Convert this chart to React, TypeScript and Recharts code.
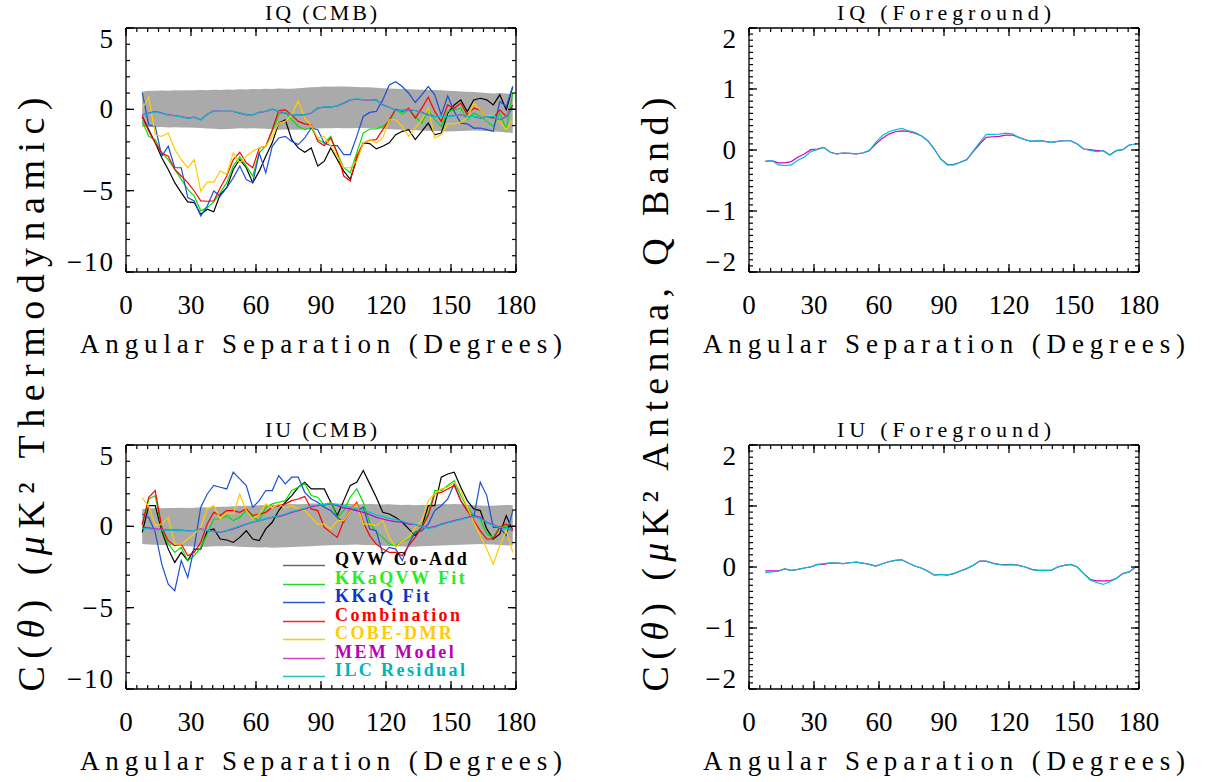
import React from 'react';
import { ComposedChart, Line, Area, XAxis, YAxis, Legend } from 'recharts';

// angular bins (degrees)
const angles = [7.5, 10.5, 13.5, 16.5, 19.5, 22.5, 25.5, 28.5, 31.5, 34.5, 37.5, 40.5, 43.5, 46.5, 49.5, 52.5, 55.5, 58.5, 61.5, 64.5, 67.5, 70.5, 73.5, 76.5, 79.5, 82.5, 85.5, 88.5, 91.5, 94.5, 97.5, 100.5, 103.5, 106.5, 109.5, 112.5, 115.5, 118.5, 121.5, 124.5, 127.5, 130.5, 133.5, 136.5, 139.5, 142.5, 145.5, 148.5, 151.5, 154.5, 157.5, 160.5, 163.5, 166.5, 169.5, 172.5, 175.5, 178.5];

// IQ (CMB)
const iqQvw = [-0.44, -1.25, -2.06, -2.98, -3.70, -4.51, -5.12, -5.69, -5.73, -6.45, -6.14, -6.30, -5.22, -4.82, -3.70, -3.08, -3.59, -4.51, -3.80, -2.88, -2.06, -0.85, -0.64, -1.86, -2.37, -2.64, -2.37, -3.49, -3.19, -2.37, -3.08, -3.80, -4.30, -3.08, -2.06, -2.11, -2.43, -2.27, -2.06, -1.56, -1.35, -1.25, -1.86, -1.35, -0.85, -1.56, -1.46, -0.23, 0.27, 0.58, -0.13, 0.58, 0.68, 0.58, 0.27, 0.89, -0.03, 1.40];
const iqKkaqvw = [-0.74, -1.66, -1.86, -2.68, -3.09, -3.70, -4.31, -4.92, -5.33, -6.24, -6.04, -5.69, -5.12, -4.51, -3.49, -2.92, -3.49, -4.10, -2.68, -2.27, -1.35, -0.27, -0.19, -0.64, -1.05, -1.25, -1.15, -1.86, -2.07, -1.66, -2.68, -3.59, -3.90, -2.68, -1.46, -1.21, -1.21, -1.05, -0.74, -0.03, -0.27, -0.03, -0.44, -0.85, -0.03, -0.64, -1.05, -0.13, -0.03, 0.07, -0.64, -0.23, -0.44, -0.74, -1.05, -0.23, -1.25, 0.99];
const iqKkaq = [1.03, -0.95, -1.05, -2.88, -2.27, -3.59, -3.59, -5.43, -5.63, -6.55, -5.94, -5.02, -5.33, -4.82, -4.21, -3.49, -4.31, -4.51, -2.68, -3.90, -2.27, -1.76, -1.66, -1.97, -2.17, -1.76, -1.15, -1.25, -2.07, -2.23, -2.23, -2.78, -2.78, -1.66, -0.44, -0.19, -0.13, 0.58, 1.50, 1.70, 1.40, 0.99, 0.42, 0.89, 1.40, 0.89, -0.34, 0.82, -0.13, -0.85, -0.89, -1.15, -1.15, -1.25, -1.35, 0.48, 0.17, 1.40];
const iqComb = [-0.44, -1.35, -2.07, -2.68, -2.88, -3.70, -4.10, -4.51, -5.02, -5.63, -5.65, -5.63, -4.82, -4.10, -3.09, -2.64, -3.29, -3.59, -2.37, -2.27, -1.25, -0.07, -0.03, -0.34, -0.74, -0.89, -0.95, -1.97, -2.23, -1.76, -2.68, -4.10, -4.41, -2.88, -2.07, -1.90, -1.86, -1.25, -0.64, 0.01, -0.13, 0.07, -0.54, 0.07, 0.74, -0.13, -0.74, 0.27, 0.07, 0.38, -0.34, 0.07, -0.03, -0.44, -0.54, -0.03, -0.44, 0.27];
const iqDmr = [0.07, 0.74, -1.56, -1.66, -1.46, -2.47, -3.09, -3.59, -3.09, -5.02, -4.47, -4.47, -3.80, -4.00, -2.68, -3.29, -2.88, -2.58, -2.37, -2.27, -1.66, -0.85, -0.74, -0.34, 0.52, -0.54, -1.01, -1.76, -1.66, -2.27, -2.88, -3.59, -3.59, -3.19, -2.07, -1.86, -2.07, -1.76, -0.64, -0.64, -1.05, -1.66, -1.15, -0.64, 0.07, -1.76, -1.56, -0.89, -0.89, -0.80, -0.54, 0.38, -0.03, -0.44, -0.34, -0.74, -1.25, -0.64];
const iqMem = [-0.34, -0.23, -0.13, -0.23, -0.34, -0.38, -0.44, -0.54, -0.48, -0.64, -0.30, -0.09, -0.13, -0.13, -0.13, -0.23, -0.34, -0.34, -0.19, -0.13, 0.01, -0.13, -0.23, -0.34, -0.34, -0.34, -0.23, 0.07, 0.13, 0.13, 0.21, 0.38, 0.58, 0.62, 0.58, 0.58, 0.58, 0.27, 0.13, -0.07, -0.07, -0.03, -0.07, -0.19, -0.34, -0.44, -0.44, -0.44, -0.38, -0.34, -0.44, -0.44, -0.54, -0.44, -0.44, -0.64, -0.44, 0.07];
const iqIlc = [-0.38, -0.25, -0.15, -0.25, -0.36, -0.40, -0.46, -0.56, -0.50, -0.66, -0.32, -0.11, -0.13, -0.11, -0.13, -0.21, -0.32, -0.34, -0.17, -0.11, 0.03, -0.11, -0.21, -0.32, -0.34, -0.32, -0.21, 0.09, 0.15, 0.15, 0.23, 0.40, 0.60, 0.64, 0.60, 0.60, 0.56, 0.25, 0.11, -0.05, -0.07, -0.01, -0.07, -0.21, -0.36, -0.46, -0.44, -0.46, -0.40, -0.36, -0.44, -0.42, -0.52, -0.46, -0.42, -0.62, -0.40, 0.05];
const iqBandHi = [1.10, 1.15, 1.14, 1.16, 1.15, 1.17, 1.16, 1.18, 1.17, 1.19, 1.18, 1.20, 1.19, 1.22, 1.21, 1.24, 1.22, 1.25, 1.24, 1.27, 1.25, 1.28, 1.26, 1.27, 1.30, 1.32, 1.35, 1.38, 1.40, 1.39, 1.41, 1.40, 1.39, 1.38, 1.36, 1.35, 1.32, 1.30, 1.28, 1.26, 1.25, 1.23, 1.22, 1.20, 1.21, 1.19, 1.17, 1.15, 1.12, 1.10, 1.08, 1.06, 1.03, 1.01, 0.98, 1.00, 0.97, 0.95];
const iqBandLo = [-1.09, -1.08, -1.10, -1.09, -1.11, -1.10, -1.12, -1.11, -1.13, -1.15, -1.18, -1.20, -1.22, -1.21, -1.19, -1.17, -1.18, -1.16, -1.18, -1.20, -1.23, -1.25, -1.24, -1.26, -1.25, -1.22, -1.20, -1.18, -1.17, -1.16, -1.15, -1.16, -1.17, -1.15, -1.14, -1.16, -1.18, -1.20, -1.22, -1.24, -1.26, -1.27, -1.28, -1.30, -1.32, -1.33, -1.35, -1.36, -1.35, -1.33, -1.32, -1.30, -1.31, -1.33, -1.36, -1.38, -1.42, -1.46];

// IU (CMB)
const iuQvw = [-0.37, 1.27, 1.27, -0.27, -1.40, -2.22, -1.60, -2.11, -1.40, -1.40, -0.27, -0.16, -0.78, -0.84, -0.99, -0.68, -0.27, -0.78, -0.88, -0.16, 0.25, 0.97, 1.48, 1.89, 2.40, 2.71, 2.30, 2.30, 2.30, 1.48, 0.66, 1.58, 2.51, 2.71, 3.43, 2.61, 1.79, 0.86, 0.76, 0.55, 0.25, -0.16, -0.57, -0.06, 1.27, 1.27, 3.02, 3.22, 3.33, 2.40, 1.58, 1.07, 0.97, -0.16, -0.78, -0.47, 0.66, -0.27];
const iuKkaqvw = [0.04, 1.68, 1.89, -0.16, -1.09, -1.60, -1.29, -2.11, -1.81, -1.29, -0.47, 0.45, 0.45, 0.66, 0.35, 0.55, 0.97, 0.55, 0.35, 1.17, 1.38, 1.48, 1.58, 2.20, 2.40, 2.65, 1.89, 1.79, 1.27, 1.48, 0.55, 0.97, 1.79, 2.30, 1.48, 0.25, -0.37, -0.68, -1.09, -1.19, -0.88, -0.78, -0.37, -0.06, 0.76, 2.20, 2.20, 2.51, 2.81, 1.89, 1.17, 0.66, 0.45, -0.47, -0.68, -0.06, 0.04, -0.27];
const iuKkaq = [0.76, 0.55, -0.37, -2.32, -3.55, -3.96, -2.11, -3.14, -1.29, 1.17, 1.99, 2.51, 2.40, 2.30, 3.33, 2.92, 2.51, 1.17, 1.58, 2.20, 2.20, 3.12, 2.61, 3.02, 3.02, 2.09, 1.68, 1.48, 1.17, 0.97, 0.55, 0.25, 1.07, 0.97, 1.17, -0.16, -0.27, -1.70, -1.29, -1.40, -2.11, -1.09, -0.37, -0.27, 0.14, 0.97, 1.27, 1.68, 2.61, 1.58, 0.97, 0.55, 2.71, 1.89, -0.06, -0.06, -0.57, 0.97];
const iuComb = [0.10, 1.79, 2.20, -0.06, -0.88, -1.19, -1.09, -1.81, -1.60, -0.99, 0.14, 0.86, 0.66, 0.97, 0.97, 0.86, 1.07, 0.66, 0.76, 0.86, 1.17, 1.27, 1.38, 1.58, 1.68, 1.83, 1.07, 0.97, -0.06, -0.37, -0.68, 0.35, 0.97, 1.48, 0.25, -0.57, -1.09, -1.40, -1.60, -1.60, -1.81, -1.19, -0.68, -0.06, 0.66, 1.99, 2.09, 2.30, 2.51, 1.58, 0.97, 0.35, -0.27, -0.78, -0.78, -0.06, 0.14, -0.16];
const iuDmr = [1.75, 1.21, 0.04, 0.14, 0.55, -1.09, -1.09, -0.78, -0.47, -0.06, 1.07, 1.27, 0.45, 0.86, 0.76, 1.99, 0.97, 0.45, 0.76, 1.38, 1.13, 1.38, 1.13, 1.27, 1.07, 0.97, 0.55, 0.14, 0.14, -0.16, 0.35, 0.35, 0.97, 1.38, 0.14, 0.14, 0.04, 0.35, -0.68, -1.29, -0.88, -0.68, -0.06, 0.35, 1.58, 1.99, 2.30, 2.40, 2.71, 2.20, 1.17, 0.25, -0.57, -1.40, -2.32, -1.19, -0.27, -1.60];
const iuMem = [-0.06, -0.10, -0.16, -0.18, -0.23, -0.23, -0.23, -0.27, -0.27, -0.16, -0.27, -0.31, -0.37, -0.27, -0.16, -0.02, 0.14, 0.25, 0.35, 0.45, 0.55, 0.60, 0.72, 0.86, 0.97, 1.07, 1.21, 1.27, 1.33, 1.38, 1.27, 1.13, 1.07, 0.97, 0.86, 0.72, 0.55, 0.45, 0.35, 0.29, 0.25, 0.14, 0.10, -0.02, -0.10, -0.02, 0.14, 0.25, 0.35, 0.45, 0.55, 0.66, 0.55, 0.25, 0.10, -0.06, -0.10, -0.27];
const iuIlc = [-0.12, -0.16, -0.20, -0.22, -0.25, -0.27, -0.25, -0.29, -0.25, -0.18, -0.25, -0.33, -0.35, -0.25, -0.12, 0.02, 0.16, 0.27, 0.37, 0.47, 0.57, 0.64, 0.76, 0.90, 1.01, 1.11, 1.25, 1.31, 1.35, 1.40, 1.33, 1.23, 1.17, 1.09, 0.99, 0.86, 0.70, 0.60, 0.49, 0.41, 0.33, 0.20, 0.12, -0.02, -0.12, -0.06, 0.10, 0.21, 0.31, 0.41, 0.51, 0.60, 0.49, 0.21, 0.06, -0.06, -0.12, -0.20];
const iuBandHi = [1.07, 1.10, 1.12, 1.11, 1.13, 1.12, 1.14, 1.13, 1.15, 1.17, 1.16, 1.19, 1.21, 1.20, 1.23, 1.25, 1.27, 1.26, 1.29, 1.31, 1.33, 1.32, 1.35, 1.37, 1.36, 1.38, 1.40, 1.41, 1.40, 1.42, 1.41, 1.39, 1.38, 1.36, 1.35, 1.37, 1.36, 1.34, 1.35, 1.33, 1.31, 1.32, 1.30, 1.31, 1.33, 1.35, 1.37, 1.36, 1.38, 1.35, 1.33, 1.30, 1.28, 1.26, 1.27, 1.29, 1.31, 1.30];
const iuBandLo = [-1.09, -1.11, -1.13, -1.15, -1.17, -1.19, -1.21, -1.22, -1.24, -1.26, -1.25, -1.23, -1.22, -1.21, -1.23, -1.25, -1.27, -1.28, -1.30, -1.29, -1.31, -1.30, -1.28, -1.27, -1.25, -1.24, -1.22, -1.20, -1.18, -1.16, -1.15, -1.14, -1.13, -1.12, -1.14, -1.15, -1.17, -1.19, -1.21, -1.23, -1.24, -1.26, -1.25, -1.23, -1.21, -1.20, -1.18, -1.16, -1.14, -1.13, -1.12, -1.10, -1.09, -1.10, -1.12, -1.14, -1.16, -1.18];

// foreground, Q band antenna
const fgIqMem = [-0.185, -0.174, -0.212, -0.212, -0.190, -0.120, -0.065, 0.005, 0.016, 0.043, -0.038, -0.065, -0.049, -0.054, -0.065, -0.049, -0.011, 0.098, 0.190, 0.261, 0.299, 0.315, 0.304, 0.277, 0.234, 0.152, 0.016, -0.147, -0.239, -0.239, -0.201, -0.158, -0.027, 0.098, 0.207, 0.217, 0.223, 0.245, 0.245, 0.207, 0.168, 0.141, 0.152, 0.141, 0.125, 0.141, 0.152, 0.152, 0.098, 0.016, 0.005, -0.011, -0.011, -0.082, -0.011, 0.005, 0.082, 0.098];
const fgIqIlc = [-0.185, -0.174, -0.245, -0.255, -0.245, -0.168, -0.120, -0.027, 0.005, 0.043, -0.038, -0.065, -0.049, -0.054, -0.065, -0.049, -0.011, 0.125, 0.234, 0.299, 0.331, 0.353, 0.315, 0.288, 0.234, 0.152, 0.016, -0.147, -0.245, -0.245, -0.201, -0.158, -0.016, 0.125, 0.255, 0.255, 0.261, 0.277, 0.266, 0.207, 0.168, 0.141, 0.152, 0.141, 0.125, 0.141, 0.152, 0.152, 0.098, 0.016, -0.005, -0.027, -0.011, -0.082, -0.011, 0.005, 0.082, 0.098];
const fgIuMem = [-0.065, -0.065, -0.065, -0.032, -0.054, -0.038, -0.016, 0.000, 0.038, 0.043, 0.065, 0.065, 0.054, 0.070, 0.081, 0.065, 0.043, 0.016, 0.054, 0.086, 0.108, 0.119, 0.065, 0.016, -0.016, -0.065, -0.135, -0.119, -0.135, -0.108, -0.065, -0.027, 0.027, 0.097, 0.097, 0.065, 0.043, 0.038, 0.043, 0.027, 0.000, -0.038, -0.054, -0.054, -0.054, 0.000, 0.027, 0.043, 0.000, -0.108, -0.205, -0.227, -0.227, -0.227, -0.189, -0.108, -0.081, 0.000];
const fgIuIlc = [-0.092, -0.081, -0.070, -0.032, -0.054, -0.038, -0.016, 0.005, 0.043, 0.054, 0.070, 0.065, 0.054, 0.070, 0.081, 0.065, 0.043, 0.016, 0.054, 0.086, 0.108, 0.119, 0.065, 0.016, -0.016, -0.070, -0.130, -0.124, -0.130, -0.108, -0.065, -0.027, 0.027, 0.097, 0.092, 0.060, 0.038, 0.032, 0.038, 0.027, 0.000, -0.043, -0.054, -0.054, -0.054, 0.000, 0.027, 0.043, 0.000, -0.108, -0.216, -0.254, -0.286, -0.243, -0.189, -0.108, -0.081, 0.005];

const cmbSeries = [
  { key: 'qvw', name: 'QVW Co-Add', color: '#000000', text: '#000000', swatch: '#6a6a6a' },
  { key: 'kkaqvw', name: 'KKaQVW Fit', color: '#00e000', text: '#22ee22', swatch: '#22dd22' },
  { key: 'kkaq', name: 'KKaQ Fit', color: '#1d4fd6', text: '#0a36c8', swatch: '#2a5ad8' },
  { key: 'comb', name: 'Combination', color: '#ff0000', text: '#ff0000', swatch: '#ff2020' },
  { key: 'dmr', name: 'COBE-DMR', color: '#ffcc00', text: '#ffcc00', swatch: '#ffcc00' },
  { key: 'mem', name: 'MEM Model', color: '#d000d0', text: '#bb00bb', swatch: '#cc44cc' },
  { key: 'ilc', name: 'ILC Residual', color: '#00c4c8', text: '#00b4b8', swatch: '#20c0c0' },
];
const fgSeries = cmbSeries.slice(5);

const build = (cols: Record<string, number[]>, lo?: number[], hi?: number[]) =>
  angles.map((a, i) => {
    const row: any = { angle: a };
    Object.keys(cols).forEach((k) => (row[k] = cols[k][i]));
    if (lo && hi) row.band = [lo[i], hi[i]];
    return row;
  });

const iqData = build({ qvw: iqQvw, kkaqvw: iqKkaqvw, kkaq: iqKkaq, comb: iqComb, dmr: iqDmr, mem: iqMem, ilc: iqIlc }, iqBandLo, iqBandHi);
const iuData = build({ qvw: iuQvw, kkaqvw: iuKkaqvw, kkaq: iuKkaq, comb: iuComb, dmr: iuDmr, mem: iuMem, ilc: iuIlc }, iuBandLo, iuBandHi);
const fgIqData = build({ mem: fgIqMem, ilc: fgIqIlc });
const fgIuData = build({ mem: fgIuMem, ilc: fgIuIlc });

const xTicks = Array.from({ length: 37 }, (_, i) => i * 5);
const cmbTicks = Array.from({ length: 16 }, (_, i) => i - 10);
const fgTicks = Array.from({ length: 41 }, (_, i) => (i - 20) / 10);

const SERIF = '"Liberation Serif", "Times New Roman", serif';
const W = 580;
const H = 365;
// negative tick size -> recharts draws the minor ticks pointing into the plot
const MINOR = -4;
const frameTickLine = { stroke: '#000', strokeWidth: 1.2 };

const fmt = (v: number) => (v < 0 ? '\u2212' + Math.abs(v) : String(v));

// longer major ticks + labels on left / bottom
const Tick = (props: any) => {
  const { x, y, payload, side, major, labels, dom } = props;
  const v = payload.value;
  const r = v / major;
  const isMajor = Math.abs(r - Math.round(r)) < 1e-6;
  if (!isMajor) return <g />;
  const len = 8;
  let d = '';
  if (side === 'left') d = `M${x},${y}h${len}`;
  if (side === 'right') d = `M${x},${y}h${-len}`;
  if (side === 'top') d = `M${x},${y}v${len}`;
  if (side === 'bottom') d = `M${x},${y}v${-len}`;
  let label = null;
  if (labels) {
    if (side === 'left') {
      let dy = 0;
      if (v === dom[1]) dy = 11;
      if (v === dom[0]) dy = -10;
      label = (
        <text x={x - 11} y={y + dy} textAnchor="end" dominantBaseline="central" fontFamily={SERIF} fontSize={27} letterSpacing={2} fill="#000">
          {fmt(v)}
        </text>
      );
    } else {
      label = (
        <text x={x} y={y + 33} textAnchor="middle" dominantBaseline="central" fontFamily={SERIF} fontSize={27} fill="#000">
          {fmt(v)}
        </text>
      );
    }
  }
  return (
    <g>
      <path d={d} stroke="#000" strokeWidth={1.3} fill="none" />
      {label}
    </g>
  );
};

const renderLegend = () => (
  <div style={{ fontFamily: SERIF, fontWeight: 'bold', fontSize: 18 }}>
    {cmbSeries.map((s) => (
      <div key={s.key} style={{ display: 'flex', alignItems: 'center', height: 18.5 }}>
        <svg width={52} height={18.5} style={{ flex: 'none' }}>
          <line x1={0} x2={42} y1={15.5} y2={15.5} stroke={s.swatch} strokeWidth={1.4} />
        </svg>
        <span style={{ color: s.text, letterSpacing: 2.4, lineHeight: '18.5px', whiteSpace: 'nowrap' }}>{s.name}</span>
      </div>
    ))}
  </div>
);

interface PanelProps {
  left: number;
  top: number;
  data: any[];
  series: typeof cmbSeries;
  title: string;
  titleLen: number;
  dom: [number, number];
  yTicks: number[];
  yMajor: number;
  band?: boolean;
  legend?: boolean;
}

const Panel = ({ left, top, data, series, title, titleLen, dom, yTicks, yMajor, band, legend }: PanelProps) => (
  <div style={{ position: 'absolute', left, top, width: W, height: H }}>
    <ComposedChart width={W} height={H} data={data} margin={{ top: 0, right: 63, bottom: 0, left: 0 }}>
      <XAxis
        xAxisId="b"
        dataKey="angle"
        type="number"
        domain={[0, 180]}
        ticks={xTicks}
        interval={0}
        height={H - 28 - 244}
        tickSize={MINOR}
        tickMargin={-MINOR}
        tickLine={frameTickLine}
        axisLine={{ stroke: '#000', strokeWidth: 1.3 }}
        tick={(p: any) => <Tick {...p} side="bottom" major={30} labels />}
        label={{
          content: (p: any) => {
            const vb = p.viewBox;
            return (
              <text x={vb.x + vb.width / 2} y={vb.y + 72} textAnchor="middle" dominantBaseline="central" fontFamily={SERIF} fontSize={27} textLength={482} lengthAdjust="spacing" fill="#000">
                Angular Separation (Degrees)
              </text>
            );
          },
        }}
      />
      <XAxis
        xAxisId="t"
        orientation="top"
        dataKey="angle"
        type="number"
        domain={[0, 180]}
        ticks={xTicks}
        interval={0}
        height={28}
        tickSize={MINOR}
        tickMargin={-MINOR}
        tickLine={frameTickLine}
        axisLine={{ stroke: '#000', strokeWidth: 1.3 }}
        tick={(p: any) => <Tick {...p} side="top" major={30} />}
        label={{
          content: (p: any) => {
            const vb = p.viewBox;
            return (
              <text x={vb.x + vb.width / 2} y={vb.y + 12} textAnchor="middle" dominantBaseline="central" fontFamily={SERIF} fontSize={22} textLength={titleLen} lengthAdjust="spacing" fill="#000">
                {title}
              </text>
            );
          },
        }}
      />
      <YAxis
        yAxisId="l"
        type="number"
        domain={dom}
        ticks={yTicks}
        interval={0}
        width={126}
        allowDataOverflow
        tickSize={MINOR}
        tickMargin={-MINOR}
        tickLine={frameTickLine}
        axisLine={{ stroke: '#000', strokeWidth: 1.3 }}
        tick={(p: any) => <Tick {...p} side="left" major={yMajor} labels dom={dom} />}
      />
      <YAxis
        yAxisId="r"
        orientation="right"
        type="number"
        domain={dom}
        ticks={yTicks}
        interval={0}
        width={1}
        allowDataOverflow
        tickSize={MINOR}
        tickMargin={-MINOR}
        tickLine={frameTickLine}
        axisLine={{ stroke: '#000', strokeWidth: 1.3 }}
        tick={(p: any) => <Tick {...p} side="right" major={yMajor} />}
      />
      {band && (
        <Area
          xAxisId="b"
          yAxisId="l"
          dataKey="band"
          type="linear"
          stroke="none"
          fill="#aaaaaa"
          fillOpacity={1}
          legendType="none"
          isAnimationActive={false}
        />
      )}
      {series.map((s) => (
        <Line
          key={s.key}
          xAxisId="b"
          yAxisId="l"
          dataKey={s.key}
          name={s.name}
          type="linear"
          stroke={s.color}
          strokeWidth={1.2}
          dot={false}
          activeDot={false}
          isAnimationActive={false}
        />
      ))}
      {/* invisible copy so the top / right frame axes get a scale */}
      <Line
        xAxisId="t"
        yAxisId="r"
        dataKey={series[series.length - 1].key}
        stroke="none"
        dot={false}
        activeDot={false}
        legendType="none"
        isAnimationActive={false}
      />
      {legend && (
        <Legend
          layout="vertical"
          align="center"
          verticalAlign="middle"
          content={renderLegend}
          wrapperStyle={{ left: 283, top: 133, width: 240, height: 'auto' }}
        />
      )}
    </ComposedChart>
  </div>
);

export default function App() {
  return (
    <div style={{ position: 'absolute', left: 0, top: 0, width: 1205, height: 782, overflow: 'hidden', background: '#fff' }}>
      <Panel left={0} top={0} data={iqData} series={cmbSeries} title="IQ (CMB)" titleLen={112} dom={[-10, 5]} yTicks={cmbTicks} yMajor={5} band />
      <Panel left={0} top={417} data={iuData} series={cmbSeries} title="IU (CMB)" titleLen={112} dom={[-10, 5]} yTicks={cmbTicks} yMajor={5} band legend />
      <Panel left={623} top={0} data={fgIqData} series={fgSeries} title="IQ (Foreground)" titleLen={214} dom={[-2, 2]} yTicks={fgTicks} yMajor={1} />
      <Panel left={623} top={417} data={fgIuData} series={fgSeries} title="IU (Foreground)" titleLen={214} dom={[-2, 2]} yTicks={fgTicks} yMajor={1} />
      <svg width={1205} height={782} style={{ position: 'absolute', left: 0, top: 0, pointerEvents: 'none' }}>
        <text transform="translate(31,394.5) rotate(-90)" textAnchor="middle" dominantBaseline="central" fontFamily={SERIF} fontSize={38} textLength={594} lengthAdjust="spacing" fill="#000">
          C(<tspan fontStyle="italic">θ</tspan>) (<tspan fontStyle="italic">μ</tspan>K² Thermodynamic)
        </text>
        <text transform="translate(655,394.5) rotate(-90)" textAnchor="middle" dominantBaseline="central" fontFamily={SERIF} fontSize={38} textLength={594} lengthAdjust="spacing" fill="#000">
          C(<tspan fontStyle="italic">θ</tspan>) (<tspan fontStyle="italic">μ</tspan>K² Antenna, Q Band)
        </text>
      </svg>
    </div>
  );
}
